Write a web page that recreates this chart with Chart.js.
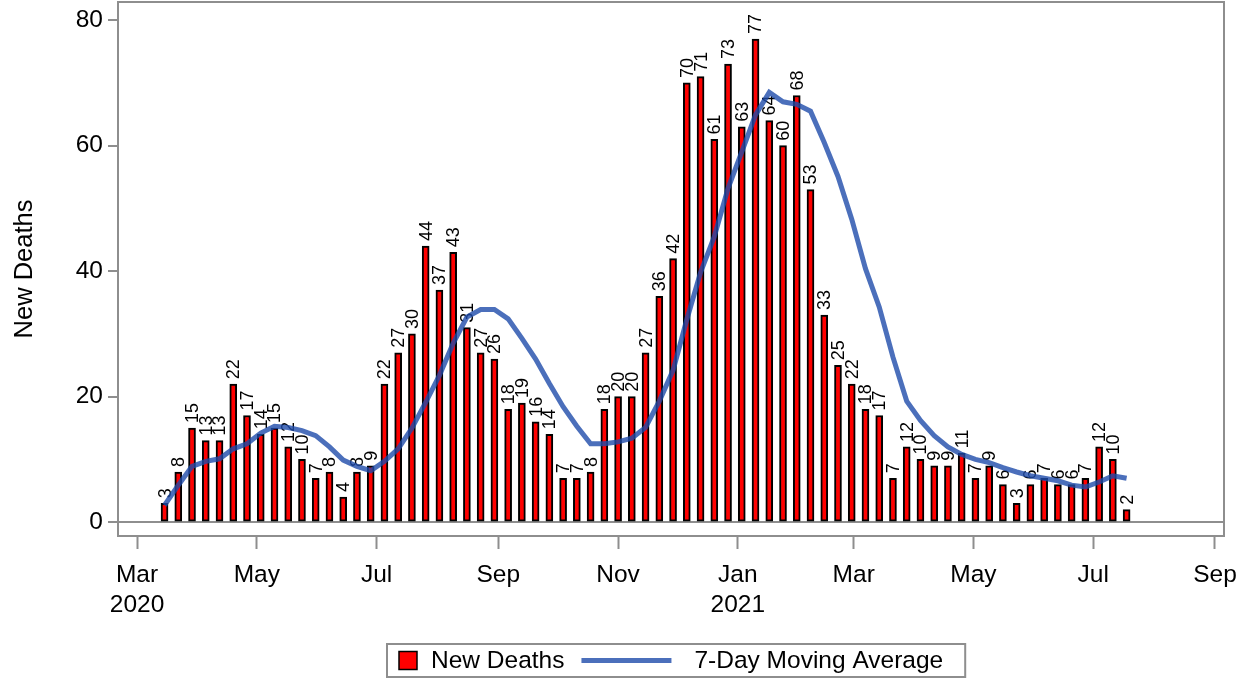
<!DOCTYPE html>
<html>
<head>
<meta charset="utf-8">
<title>New Deaths</title>
<script src="https://cdn.jsdelivr.net/npm/chart.js@4.4.1/dist/chart.umd.min.js"></script>
<style>
  html, body { margin: 0; padding: 0; background: #fff; }
  #wrap { width: 1249px; height: 680px; position: relative; }
</style>
</head>
<body>
<div id="wrap"><canvas id="deathsChart"></canvas></div>
<script>
// Semanas (fecha de cada barra)
const weekDates = [
  '2020-03-15', '2020-03-22', '2020-03-29', '2020-04-05', '2020-04-12', '2020-04-19', '2020-04-26',
  '2020-05-03', '2020-05-10', '2020-05-17', '2020-05-24', '2020-05-31', '2020-06-07', '2020-06-14',
  '2020-06-21', '2020-06-28', '2020-07-05', '2020-07-12', '2020-07-19', '2020-07-26', '2020-08-02',
  '2020-08-09', '2020-08-16', '2020-08-23', '2020-08-30', '2020-09-06', '2020-09-13', '2020-09-20',
  '2020-09-27', '2020-10-04', '2020-10-11', '2020-10-18', '2020-10-25', '2020-11-01', '2020-11-08',
  '2020-11-15', '2020-11-22', '2020-11-29', '2020-12-06', '2020-12-13', '2020-12-20', '2020-12-27',
  '2021-01-03', '2021-01-10', '2021-01-17', '2021-01-24', '2021-01-31', '2021-02-07', '2021-02-14',
  '2021-02-21', '2021-02-28', '2021-03-07', '2021-03-14', '2021-03-21', '2021-03-28', '2021-04-04',
  '2021-04-11', '2021-04-18', '2021-04-25', '2021-05-02', '2021-05-09', '2021-05-16', '2021-05-23',
  '2021-05-30', '2021-06-06', '2021-06-13', '2021-06-20', '2021-06-27', '2021-07-04', '2021-07-11',
  '2021-07-18'
];

// Muertes nuevas por semana
const newDeaths = [
  3, 8, 15, 13, 13, 22, 17, 14, 15, 12, 10, 7, 8, 4, 8, 9, 22, 27, 30, 44,
  37, 43, 31, 27, 26, 18, 19, 16, 14, 7, 7, 8, 18, 20, 20, 27, 36, 42, 70, 71,
  61, 73, 63, 77, 64, 60, 68, 53, 33, 25, 22, 18, 17, 7, 12, 10, 9, 9, 11, 7,
  9, 6, 3, 6, 7, 6, 6, 7, 12, 10, 2
];

// Media móvil de 7 días
const movingAvg = [
  2.7, 5.9, 8.9, 9.7, 10.1, 11.7, 12.5, 14.2, 15.3, 15.1, 14.6, 13.8, 12.0, 9.9, 8.9, 8.2, 9.7, 11.7, 15.0, 19.1,
  23.4, 28.5, 32.7, 33.9, 33.9, 32.4, 29.3, 26.0, 22.1, 18.4, 15.3, 12.5, 12.5, 12.8, 13.4, 15.1, 19.3, 24.2, 32.3, 39.8,
  45.5, 53.2, 59.0, 64.9, 68.5, 67.0, 66.6, 65.5, 60.5, 55.1, 48.3, 40.4, 34.3, 26.3, 19.3, 16.2, 13.8, 12.0, 10.8, 10.0,
  9.5, 8.7, 8.0, 7.4, 7.0, 6.6, 5.9, 5.6, 6.4, 7.4, 7.0
];

// Marcas del eje X
const monthTickDates = ['2020-03-01', '2020-05-01', '2020-07-01', '2020-09-01', '2020-11-01',
                        '2021-01-01', '2021-03-01', '2021-05-01', '2021-07-01', '2021-09-01'];
const monthTickLabels = [['Mar', '2020'], 'May', 'Jul', 'Sep', 'Nov', ['Jan', '2021'], 'Mar', 'May', 'Jul', 'Sep'];
const yTicks = [0, 20, 40, 60, 80];

const FONT = '"Liberation Sans", Arial, sans-serif';
const GRAY = '#8e8e8e';
const LINE_COLOR = 'rgba(30, 75, 170, 0.8)';

// Convierte fecha a días desde el 1 de marzo de 2020
const origin = Date.UTC(2020, 2, 1);
function dayIndex(s) {
  const [y, m, d] = s.split('-').map(Number);
  return Math.round((Date.UTC(y, m - 1, d) - origin) / 86400000);
}

const barPoints = weekDates.map((d, i) => ({ x: dayIndex(d), y: newDeaths[i] }));
const avgPoints = weekDates.map((d, i) => ({ x: dayIndex(d), y: movingAvg[i] }));
const monthTickValues = monthTickDates.map(dayIndex);

// Marco gris alrededor del área del gráfico
const framePlugin = {
  id: 'frame',
  afterDatasetsDraw(chart) {
    const { ctx, chartArea: a } = chart;
    ctx.save();
    ctx.strokeStyle = GRAY;
    ctx.lineWidth = 2;
    ctx.strokeRect(a.left, a.top, a.right - a.left, a.bottom - a.top);
    ctx.restore();
  }
};

// Etiquetas verticales sobre cada barra (antes de dibujar la línea)
const barLabelPlugin = {
  id: 'barLabels',
  afterDatasetDraw(chart, args) {
    if (args.meta.type !== 'bar') return;
    const ctx = chart.ctx;
    const data = chart.data.datasets[args.index].data;
    ctx.save();
    ctx.font = '18px ' + FONT;
    ctx.fillStyle = '#000';
    ctx.textAlign = 'left';
    ctx.textBaseline = 'middle';
    args.meta.data.forEach((el, i) => {
      ctx.save();
      ctx.translate(el.x + 1, el.y - 5);
      ctx.rotate(-Math.PI / 2);
      ctx.fillText(String(data[i].y), 0, 0);
      ctx.restore();
    });
    ctx.restore();
  }
};

// Leyenda con recuadro, abajo
const legendPlugin = {
  id: 'legendBox',
  afterDraw(chart) {
    const { ctx, chartArea: a } = chart;
    const sets = chart.data.datasets;
    ctx.save();
    ctx.font = '24.5px ' + FONT;
    const barW = ctx.measureText(sets[0].label).width;
    const lineW = ctx.measureText(sets[1].label).width;
    const total = 12 + 18 + 14 + barW + 17 + 90 + 23 + lineW + 22;
    const left = Math.round((a.left + a.right) / 2 - total / 2 + 5);
    const top = 644, h = 33, cy = top + h / 2;

    ctx.strokeStyle = GRAY;
    ctx.lineWidth = 2;
    ctx.strokeRect(left, top, total, h);

    let x = left + 12;
    ctx.fillStyle = sets[0].backgroundColor;
    ctx.fillRect(x, cy - 9, 18, 18);
    ctx.strokeStyle = '#000';
    ctx.lineWidth = 1.5;
    ctx.strokeRect(x, cy - 9, 18, 18);
    x += 18 + 14;

    ctx.fillStyle = '#000';
    ctx.textBaseline = 'middle';
    ctx.fillText(sets[0].label, x, cy + 1);
    x += barW + 17;

    ctx.strokeStyle = LINE_COLOR;
    ctx.lineWidth = 5;
    ctx.beginPath();
    ctx.moveTo(x, cy);
    ctx.lineTo(x + 90, cy);
    ctx.stroke();
    x += 90 + 23;

    ctx.fillStyle = '#000';
    ctx.fillText(sets[1].label, x, cy + 1);
    ctx.restore();
  }
};

const ctx = document.getElementById('deathsChart').getContext('2d');
const deathsChart = new Chart(ctx, {
  data: {
    datasets: [
      {
        type: 'bar',
        label: 'New Deaths',
        data: barPoints,
        backgroundColor: '#ff0000',
        borderColor: '#000000',
        borderWidth: 2,
        borderSkipped: false,
        barThickness: 7,
        order: 2
      },
      {
        type: 'line',
        label: '7-Day Moving Average',
        data: avgPoints,
        borderColor: LINE_COLOR,
        borderWidth: 5,
        pointRadius: 0,
        tension: 0,
        fill: false,
        order: 1
      }
    ]
  },
  options: {
    responsive: true,
    maintainAspectRatio: false,
    animation: false,
    layout: { padding: { top: 2, right: 25, bottom: 50, left: 0 } },
    plugins: {
      legend: { display: false },
      tooltip: { enabled: false }
    },
    scales: {
      x: {
        type: 'linear',
        offset: false,
        min: -9.7,
        max: 553.6,
        afterBuildTicks: scale => { scale.ticks = monthTickValues.map(v => ({ value: v })); },
        afterFit: scale => {
          scale.height = 94;
          scale.paddingLeft = 0;
          scale.paddingRight = 0;
        },
        ticks: {
          autoSkip: false,
          maxRotation: 0,
          padding: 12,
          color: '#000',
          font: { family: FONT, size: 24.5 },
          callback: (value, index) => monthTickLabels[index]
        },
        grid: {
          offset: false,
          drawOnChartArea: false,
          drawTicks: true,
          tickLength: 13,
          tickColor: GRAY,
          tickWidth: 2
        },
        border: { display: false }
      },
      y: {
        min: -2.2,
        max: 82.9,
        afterBuildTicks: scale => { scale.ticks = yTicks.map(v => ({ value: v })); },
        afterFit: scale => {
          scale.width = 118;
          scale.paddingTop = 0;
          scale.paddingBottom = 0;
        },
        ticks: {
          padding: 5,
          color: '#000',
          font: { family: FONT, size: 24.5 }
        },
        grid: {
          color: c => (c.tick && c.tick.value === 0 ? GRAY : 'rgba(0,0,0,0)'),
          lineWidth: 2,
          tickLength: 10,
          tickColor: GRAY,
          tickWidth: 2
        },
        border: { display: false },
        title: {
          display: true,
          text: 'New Deaths',
          color: '#000',
          font: { family: FONT, size: 25.5 },
          padding: { top: 10, bottom: 0 }
        }
      }
    }
  },
  plugins: [framePlugin, barLabelPlugin, legendPlugin]
});
</script>
</body>
</html>
